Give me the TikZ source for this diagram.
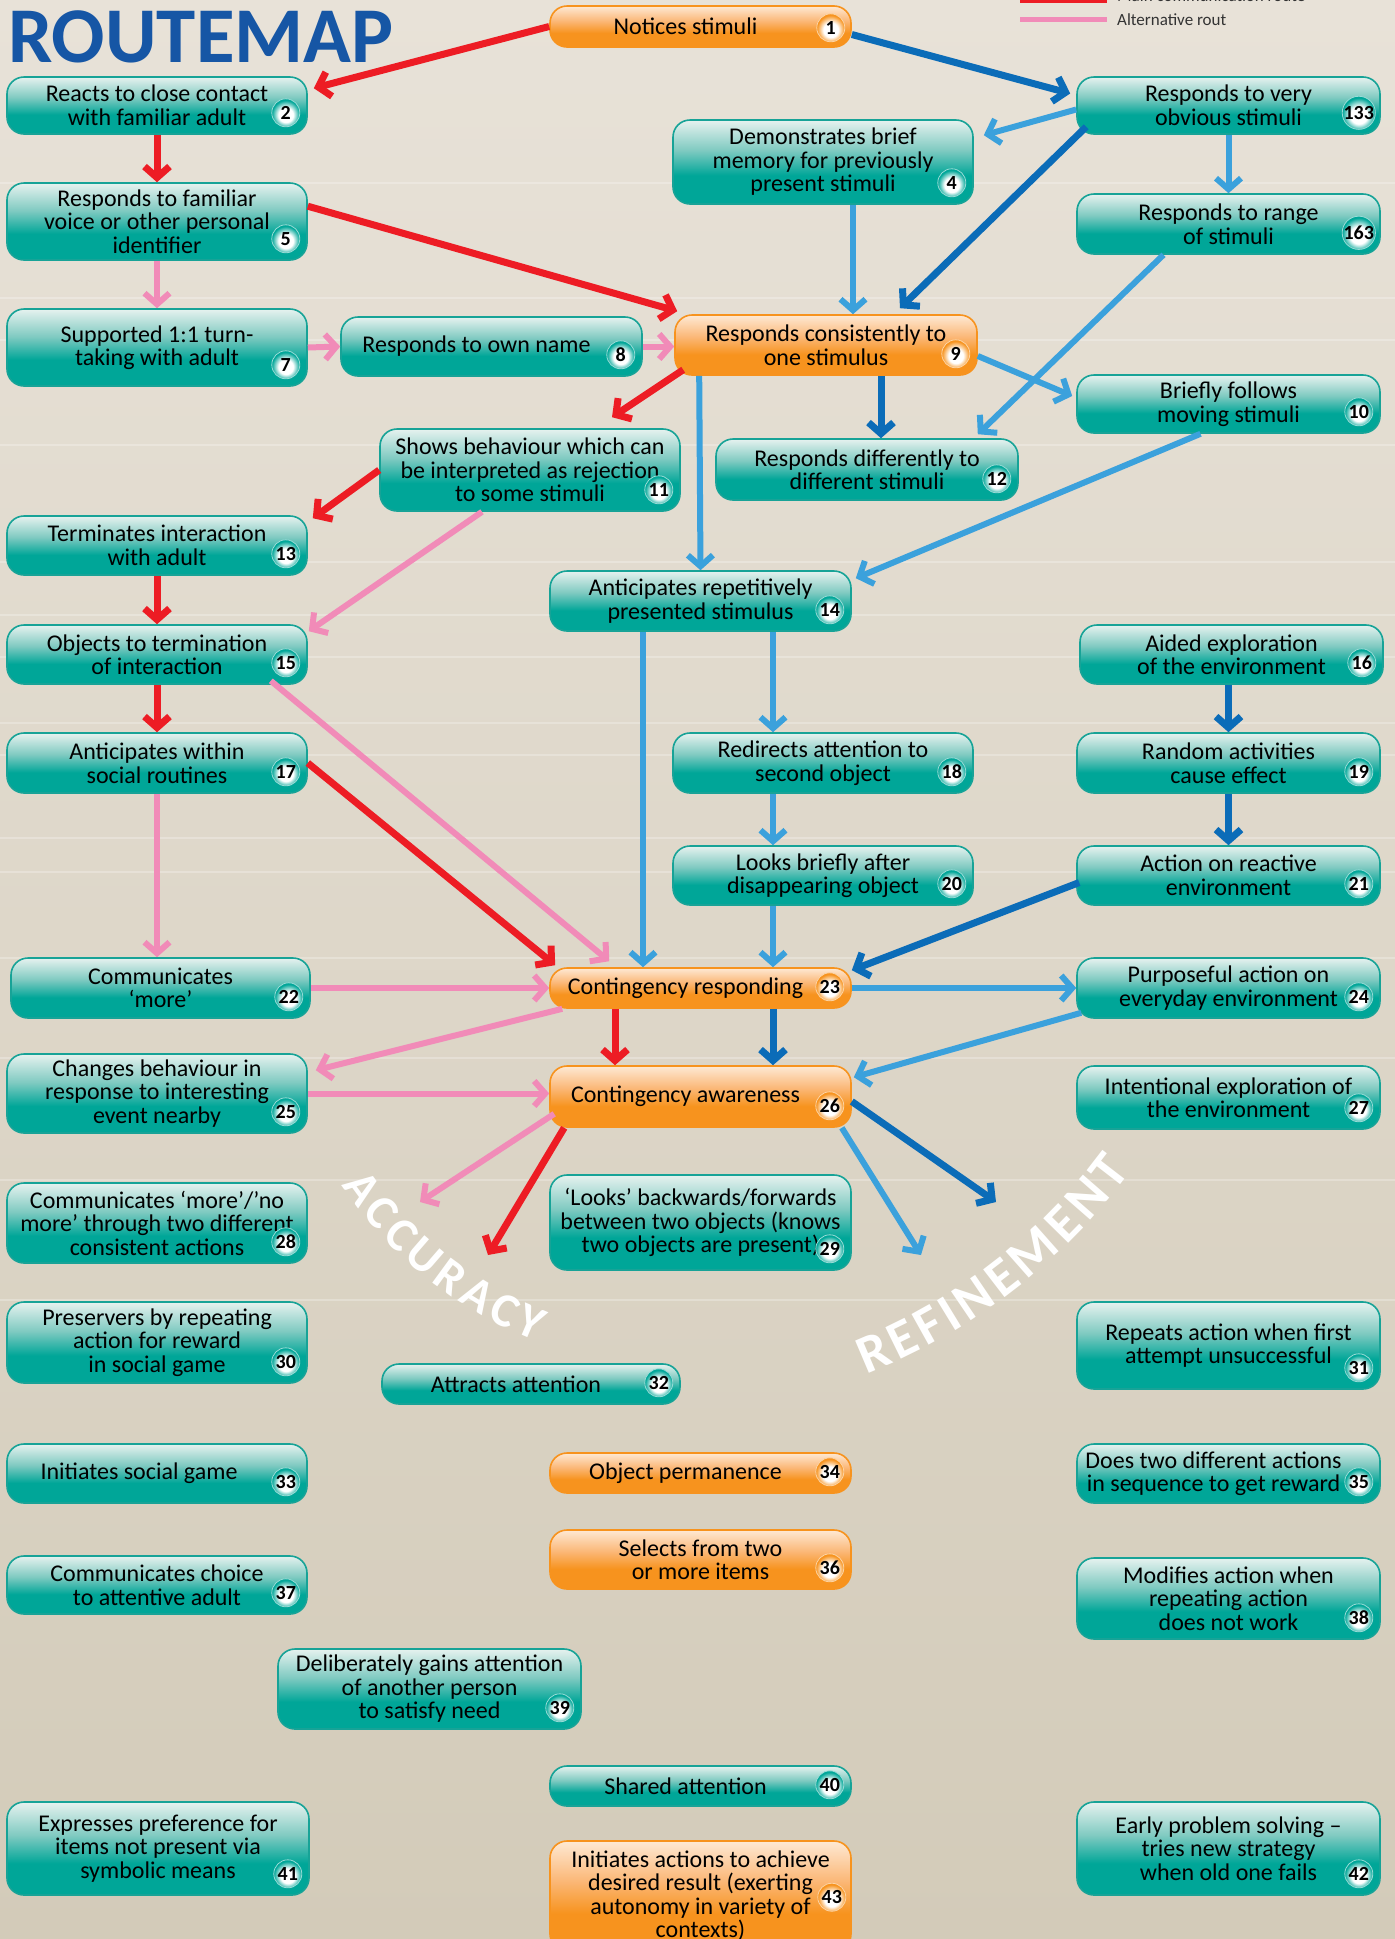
\documentclass[tikz,border=0pt]{standalone}
\usepackage{fontspec}
\setmainfont{Carlito}
\usetikzlibrary{arrows.meta,calc}

\definecolor{tealtop}{HTML}{E6F2EF}
\definecolor{tealmid}{HTML}{7FCAC1}
\definecolor{tealbot}{HTML}{00A698}
\definecolor{tealline}{HTML}{17A397}
\definecolor{orgtop}{HTML}{FEE9D4}
\definecolor{orgmid}{HTML}{FBB878}
\definecolor{orgbot}{HTML}{F7931E}
\definecolor{routered}{HTML}{ED1C24}
\definecolor{routepink}{HTML}{F18BB8}
\definecolor{lightblue}{HTML}{3BA1DC}
\definecolor{darkblue}{HTML}{0B6CB8}
\definecolor{titleblue}{HTML}{1656A5}
\definecolor{paper}{HTML}{E8E2D8}
\definecolor{paperlow}{HTML}{D3CBB9}

\pgfdeclareverticalshading{tealfade}{100bp}{color(0bp)=(tealbot); color(25bp)=(tealbot); color(42bp)=(tealbot); color(57bp)=(tealmid); color(75bp)=(tealtop); color(100bp)=(tealtop)}
\pgfdeclareverticalshading{orangefade}{100bp}{color(0bp)=(orgbot); color(25bp)=(orgbot); color(42bp)=(orgbot); color(57bp)=(orgmid); color(75bp)=(orgtop); color(100bp)=(orgtop)}
\pgfdeclareradialshading{tealdot}{\pgfpoint{0bp}{-5bp}}{color(0bp)=(white); color(13bp)=(white); color(25bp)=(tealbot); color(50bp)=(tealbot)}
\pgfdeclareradialshading{orangedot}{\pgfpoint{0bp}{-5bp}}{color(0bp)=(white); color(13bp)=(white); color(25bp)=(orgbot); color(50bp)=(orgbot)}

\newcommand\boxfont{\fontsize{24}{23.5}\selectfont}
\newcommand\badgefont{\bfseries\fontsize{20}{20}\selectfont}
\newcommand\titlefont{\bfseries\fontsize{79}{79}\selectfont}
\newcommand\legendfont{\fontsize{17}{17}\selectfont}
\newcommand\arcfont{\bfseries\fontsize{48}{48}\selectfont}
\newcommand\bigarcfont{\bfseries\fontsize{54}{54}\selectfont}

\begin{document}
\begin{tikzpicture}[x=1pt, y=-1pt, every node/.style={inner sep=2pt},
  tealbox/.style={draw=tealline, line width=1.6pt, rounded corners=17pt, shade, shading=tealfade, align=center, text=black, font=\boxfont},
  orangebox/.style={tealbox, draw=orgbot, shading=orangefade},
  tbadge/.style={circle, minimum size=28pt, inner sep=0pt, shade, shading=tealdot, draw=white!60!tealbot, line width=0.8pt, text=black, font=\badgefont},
  obadge/.style={tbadge, shading=orangedot, draw=white!60!orgbot},
  arcletter/.style={inner sep=0pt, text=white, font=\arcfont},
  link/.style={line width=7pt, -{Straight Barb[length=11pt, width=25pt]}},
  mainroute/.style={link, draw=routered},
  altroute/.style={link, draw=routepink, line width=6pt},
  lightroute/.style={link, draw=lightblue, line width=6pt},
  darkroute/.style={link, draw=darkblue}]
  \path[use as bounding box] (0,0) rectangle (1395,1939);
  \clip (0,0) rectangle (1395,1939);
  \fill[top color=paper, bottom color=paperlow] (0,0) rectangle (1395,1939);
  \foreach \ly in {183,298,340,445,562,615,657,723,755,838,872,958,1058,1180,1300}
    \draw[white, opacity=0.25, line width=2pt] (0,\ly) -- (1395,\ly);

  % title and legend
  \node[anchor=base west, inner sep=0pt, text=titleblue, font=\titlefont] (title) at (8,62) {ROUTEMAP};
  \draw[routered, line width=6pt] (1020,0) -- (1107,0);
  \node[anchor=west, font=\legendfont, text=black!80] (legmain) at (1115,-4) {Main communication route};
  \draw[routepink, line width=5pt] (1020,19) -- (1107,19);
  \node[anchor=west, font=\legendfont, text=black!80] (legalt) at (1115,20) {Alternative rout};

  % steps
  \node[orangebox, minimum width=301pt, minimum height=41pt] (n1) at (700.5,26.5) {Notices stimuli\hspace*{30pt}};
  \node[tealbox, minimum width=300pt, minimum height=57pt] (n2) at (157,105.5) {Reacts to close contact\\with familiar adult};
  \node[tealbox, minimum width=303pt, minimum height=57pt] (n133) at (1228.5,105.5) {Responds to very\\obvious stimuli};
  \node[tealbox, minimum width=300pt, minimum height=84pt] (n4) at (823,162) {Demonstrates brief\\memory for previously\\present stimuli};
  \node[tealbox, minimum width=300pt, minimum height=77pt] (n5) at (157,221.5) {Responds to familiar\\voice or other personal\\identifier};
  \node[tealbox, minimum width=303pt, minimum height=60pt] (n163) at (1228.5,224) {Responds to range\\of stimuli};
  \node[tealbox, minimum width=300pt, minimum height=77pt] (n7) at (157,347.5) {Supported 1:1 turn-\\taking with adult};
  \node[tealbox, minimum width=301pt, minimum height=59pt] (n8) at (491.5,346.5) {Responds to own name\hspace*{30pt}};
  \node[orangebox, minimum width=302pt, minimum height=60pt] (n9) at (826,345) {Responds consistently to\\one stimulus};
  \node[tealbox, minimum width=303pt, minimum height=58pt] (n10) at (1228.5,404) {Briefly follows\\moving stimuli};
  \node[tealbox, minimum width=300pt, minimum height=82pt] (n11) at (530,470) {Shows behaviour which can\\be interpreted as rejection\\to some stimuli};
  \node[tealbox, minimum width=302pt, minimum height=61pt] (n12) at (867,469.5) {Responds differently to\\different stimuli};
  \node[tealbox, minimum width=300pt, minimum height=59pt] (n13) at (157,545.5) {Terminates interaction\\with adult};
  \node[tealbox, minimum width=301pt, minimum height=60pt] (n14) at (700.5,601) {Anticipates repetitively\\presented stimulus};
  \node[tealbox, minimum width=300pt, minimum height=59pt] (n15) at (157,654.5) {Objects to termination\\of interaction};
  \node[tealbox, minimum width=303pt, minimum height=59pt] (n16) at (1231.5,654.5) {Aided exploration\\of the environment};
  \node[tealbox, minimum width=300pt, minimum height=60pt] (n17) at (157,763) {Anticipates within\\social routines};
  \node[tealbox, minimum width=300pt, minimum height=60pt] (n18) at (823,763) {Redirects attention to\\second object};
  \node[tealbox, minimum width=303pt, minimum height=60pt] (n19) at (1228.5,763) {Random activities\\cause effect};
  \node[tealbox, minimum width=300pt, minimum height=59pt] (n20) at (823,875.5) {Looks briefly after\\disappearing object};
  \node[tealbox, minimum width=303pt, minimum height=59pt] (n21) at (1228.5,875.5) {Action on reactive\\environment};
  \node[tealbox, minimum width=299pt, minimum height=60pt] (n22) at (160.5,988) {Communicates\\‘more’};
  \node[orangebox, minimum width=301pt, minimum height=40pt] (n23) at (700.5,988) {Contingency responding\hspace*{30pt}};
  \node[tealbox, minimum width=303pt, minimum height=60pt] (n24) at (1228.5,988) {Purposeful action on\\everyday environment};
  \node[tealbox, minimum width=300pt, minimum height=79pt] (n25) at (157,1093.5) {Changes behaviour in\\response to interesting\\event nearby};
  \node[orangebox, minimum width=301pt, minimum height=61pt] (n26) at (700.5,1096.5) {Contingency awareness\hspace*{30pt}};
  \node[tealbox, minimum width=303pt, minimum height=63pt] (n27) at (1228.5,1097.5) {Intentional exploration of\\the environment};
  \node[tealbox, minimum width=300pt, minimum height=80pt] (n28) at (157,1223) {Communicates ‘more’/’no\\more’ through two different\\consistent actions};
  \node[tealbox, minimum width=301pt, minimum height=95pt] (n29) at (700.5,1222.5) {‘Looks’ backwards/forwards\\between two objects (knows\\two objects are present)};
  \node[tealbox, minimum width=300pt, minimum height=81pt] (n30) at (157,1342.5) {Preservers by repeating\\action for reward\\in social game};
  \node[tealbox, minimum width=303pt, minimum height=87pt] (n31) at (1228.5,1345.5) {Repeats action when first\\attempt unsuccessful};
  \node[tealbox, minimum width=298pt, minimum height=40pt] (n32) at (531,1384) {Attracts attention\hspace*{30pt}};
  \node[tealbox, minimum width=300pt, minimum height=59pt] (n33) at (157,1473.5) {Initiates social game\hspace*{36pt}};
  \node[orangebox, minimum width=301pt, minimum height=40pt] (n34) at (700.5,1473) {Object permanence\hspace*{30pt}};
  \node[tealbox, minimum width=303pt, minimum height=59pt] (n35) at (1228.5,1473.5) {Does two different actions\hspace*{30pt}\\in sequence to get reward\hspace*{30pt}};
  \node[orangebox, minimum width=301pt, minimum height=59pt] (n36) at (700.5,1559.5) {Selects from two\\or more items};
  \node[tealbox, minimum width=300pt, minimum height=58pt] (n37) at (157,1585) {Communicates choice\\to attentive adult};
  \node[tealbox, minimum width=303pt, minimum height=81pt] (n38) at (1228.5,1598.5) {Modifies action when\\repeating action\\does not work};
  \node[tealbox, minimum width=303pt, minimum height=80pt] (n39) at (429.5,1689) {Deliberately gains attention\\of another person\\to satisfy need};
  \node[tealbox, minimum width=301pt, minimum height=40pt] (n40) at (700.5,1786) {Shared attention\hspace*{30pt}};
  \node[tealbox, minimum width=302pt, minimum height=93pt] (n41) at (158,1848.5) {Expresses preference for\\items not present via\\symbolic means};
  \node[tealbox, minimum width=303pt, minimum height=93pt] (n42) at (1228.5,1848.5) {Early problem solving –\\tries new strategy\\when old one fails};
  \node[orangebox, minimum width=301pt, minimum height=110pt] (n43) at (700.5,1896) {Initiates actions to achieve\\desired result (exerting\\autonomy in variety of\\contexts)};

  % step numbers
  \node[obadge] (b1) at ($(n1.south east)+(-21,-20)$) {1};
  \foreach \s in {2,4,5,7,8,10,11,12,13,14,15,16,17,18,19,20,21,22,24,25,27,28,29,30,31,32,33,35,37,38,39,40,41,42}
    \node[tbadge] (b\s) at ($(n\s.south east)+(-22,-22)$) {\s};
  \node[tbadge] (b133) at ($(n133.south east)+(-22,-22)$) {133};
  \node[tbadge] (b163) at ($(n163.south east)+(-22,-22)$) {163};
  \foreach \s in {9,23,26,34,36}
    \node[obadge] (b\s) at ($(n\s.south east)+(-22,-22)$) {\s};
  \node[obadge] (b43) at ($(n43.north east)+(-20,57)$) {43};

  % routes
  \draw[mainroute] (n1.west) -- ($(n2.north east)+(6,12)$);
  \draw[darkroute] ($(n1.east)+(0,8)$) -- ($(n133.west)+(-6,-12)$);
  \draw[lightroute] ($(n133.west)+(0,4)$) -- ($(n4.north east)+(10,16)$);
  \draw[darkroute] ($(n133.south west)+(10,-8)$) -- ($(n9.north)+(74,-6)$);
  \draw[lightroute] (n133.south) -- (n163.north);
  \draw[mainroute] (n2.south) -- (n5.north);
  \draw[mainroute] ($(n5.north east)+(0,24)$) -- ($(n9.north west)+(3,-3)$);
  \draw[altroute] (n5.south) -- (n7.north);
  \draw[altroute] (n7.east) -- (n8.west);
  \draw[altroute] (n8.east) -- (n8.east -| n9.west);
  \draw[lightroute] ($(n4.south)+(30,0)$) -- ($(n9.north)+(27,0)$);
  \draw[lightroute] ($(n163.south)+(-65,0)$) -- ($(n12.north east)+(-41,-4)$);
  \draw[lightroute] ($(n9.east)+(0,11)$) -- ($(n10.west)+(-4,-8)$);
  \draw[darkroute] ($(n9.south)+(55,0)$) -- ($(n12.north)+(14,0)$);
  \draw[mainroute] ($(n9.south west)+(9,-6)$) -- ($(n11.north)+(82,-11)$);
  \draw[lightroute] ($(n9.south west)+(25,0)$) -- (n14.north);
  \draw[lightroute] ($(n10.south)+(-28,0)$) -- ($(n14.north east)+(4,8)$);
  \draw[mainroute] (n11.west) -- ($(n13.north east)+(5,3)$);
  \draw[altroute] ($(n11.south)+(-48,0)$) -- ($(n15.north east)+(1,7)$);
  \draw[mainroute] (n13.south) -- (n15.north);
  \draw[mainroute] (n15.south) -- (n17.north);
  \draw[altroute] ($(n15.south east)+(-37,-4)$) -- ($(n23.north west)+(60,-6)$);
  \draw[mainroute] (n17.east) -- ($(n23.north west)+(6,-2)$);
  \draw[altroute] (n17.south) -- ($(n22.north)+(-3.5,0)$);
  \draw[lightroute] ($(n14.south)+(-57.5,0)$) -- ($(n23.north)+(-57.5,0)$);
  \draw[lightroute] ($(n14.south)+(72.5,0)$) -- ($(n18.north)+(-50,0)$);
  \draw[lightroute] ($(n18.south)+(-50,0)$) -- ($(n20.north)+(-50,0)$);
  \draw[lightroute] ($(n20.south)+(-50,0)$) -- ($(n23.north)+(72.5,0)$);
  \draw[darkroute] ($(n16.south)+(-3,0)$) -- (n19.north);
  \draw[darkroute] (n19.south) -- (n21.north);
  \draw[darkroute] ($(n21.west)+(3,7)$) -- ($(n23.north east)+(0,3)$);
  \draw[altroute] (n22.east) -- (n23.west);
  \draw[lightroute] (n23.east) -- (n24.west);
  \draw[altroute] ($(n23.south west)+(13,0)$) -- ($(n25.north east)+(8,17)$);
  \draw[mainroute] ($(n23.south)+(-85.5,0)$) -- ($(n26.north)+(-85.5,0)$);
  \draw[darkroute] ($(n23.south)+(72.5,0)$) -- ($(n26.north)+(72.5,0)$);
  \draw[lightroute] ($(n24.south west)+(5,-6)$) -- ($(n26.north east)+(2,12)$);
  \draw[altroute] (n25.east) -- (n25.east -| n26.west);

  % open ends towards accuracy and refinement
  \coordinate (accpink) at (420,1202);
  \coordinate (accred) at (488,1255);
  \coordinate (refblue) at (921,1255);
  \coordinate (refdark) at (996,1202);
  \draw[altroute] ($(n26.south west)+(5,-14)$) -- (accpink);
  \draw[mainroute] ($(n26.south west)+(15,0)$) -- (accred);
  \draw[lightroute] ($(n26.south east)+(-10,0)$) -- (refblue);
  \draw[darkroute] ($(n26.east)+(0,5)$) -- (refdark);

  % curved words, one letter at a time
  \coordinate (accctr) at (690,950);
  \coordinate (refctr) at (642,810);
  \foreach \ch/\t [count=\i] in {A/144.0, C/139.6, C/135.4, U/130.9, R/126.2, A/121.6, C/117.2, Y/113.1}
    \node[arcletter, rotate=90-\t] (acc\i) at ($(accctr)+(\t:405)$) {\ch};
  \foreach \ch/\t [count=\i] in {R/66.9, E/63.8, F/60.9, I/58.6, N/55.8, E/52.4, M/48.5, E/44.5, N/41.1, T/37.7}
    \node[arcletter, font=\bigarcfont, rotate=90-\t] (ref\i) at ($(refctr)+(\t:590)$) {\ch};
\end{tikzpicture}
\end{document}
